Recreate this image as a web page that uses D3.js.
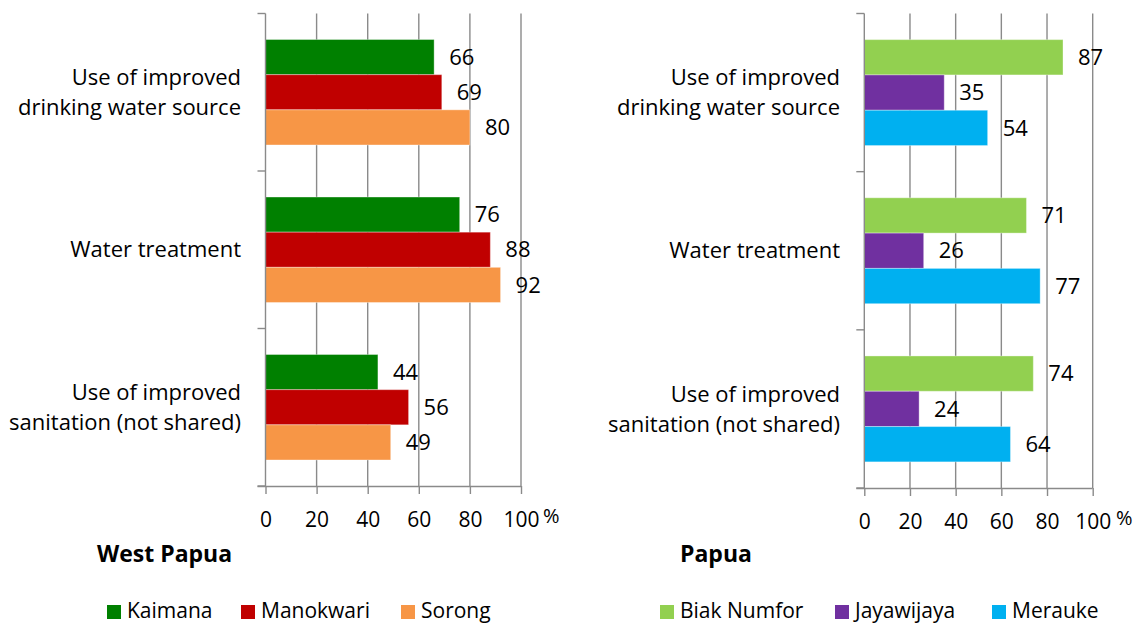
<!DOCTYPE html>
<html>
<head>
<meta charset="utf-8">
<script src="https://cdn.jsdelivr.net/npm/d3@7"></script>
<style>
  body { margin: 0; background: #fff; }
  svg { display: block; font-family: "Open Sans", "Noto Sans", sans-serif; }
</style>
</head>
<body>
<svg id="chart" width="1140" height="624"></svg>
<script>
// indicators, top to bottom
var categories = [
  ["Use of improved", "drinking water source"],
  ["Water treatment"],
  ["Use of improved", "sanitation (not shared)"]
];
var xTicks = [0, 20, 40, 60, 80, 100];

// West Papua
var westSeries = ["Kaimana", "Manokwari", "Sorong"];
var westColors = ["#008000", "#c00000", "#f79646"];
var kaimana = [66, 76, 44];
var manokwari = [69, 88, 56];
var sorong = [80, 92, 49];

// Papua
var papuaSeries = ["Biak Numfor", "Jayawijaya", "Merauke"];
var papuaColors = ["#92d050", "#7030a0", "#00b0f0"];
var biakNumfor = [87, 71, 74];
var jayawijaya = [35, 26, 24];
var merauke = [54, 77, 64];

var svg = d3.select("#chart");
var gridColor = "#8a8a8a";

function drawPanel(opt){
  var g = svg.append("g");
  var x = d3.scaleLinear().domain([0, 100]).range([opt.x0, opt.x1]);
  var catIdx = d3.range(categories.length);
  var y = d3.scaleBand().domain(catIdx).range([opt.y0, opt.y1]);
  var inner = d3.scaleBand().domain(opt.series).range([0, y.bandwidth()]).paddingOuter(0.74);

  // gridlines
  g.selectAll(".grid")
    .data(xTicks.slice(1))
    .enter().append("line")
    .attr("x1", function(d){ return x(d); })
    .attr("x2", function(d){ return x(d); })
    .attr("y1", opt.y0)
    .attr("y2", opt.y1)
    .style("stroke", gridColor)
    .style("stroke-width", 1.4);

  // bars
  var rows = [];
  opt.series.forEach(function(s, si){
    opt.values[si].forEach(function(v, ci){
      rows.push({series: s, si: si, ci: ci, value: v});
    });
  });
  g.selectAll(".bar")
    .data(rows)
    .enter().append("rect")
    .attr("x", x(0))
    .attr("y", function(d){ return y(d.ci) + inner(d.series); })
    .attr("width", function(d){ return x(d.value) - x(0); })
    .attr("height", inner.bandwidth())
    .style("fill", function(d){ return opt.colors[d.si]; })
    .style("stroke", "rgba(255,255,255,0.35)")
    .style("stroke-width", 1);

  g.selectAll(".val")
    .data(rows)
    .enter().append("text")
    .attr("x", function(d){ return x(d.value) + 15; })
    .attr("y", function(d){ return y(d.ci) + inner(d.series) + inner.bandwidth() / 2; })
    .attr("dy", ".35em")
    .style("font-size", "22px")
    .style("fill", "#000")
    .text(function(d){ return d.value; });

  // category axis (ticks at band edges)
  var edges = catIdx.map(function(i){ return y(i); }).concat([opt.y1]);
  g.append("line")
    .attr("x1", x(0)).attr("x2", x(0))
    .attr("y1", opt.y0).attr("y2", opt.y1)
    .style("stroke", gridColor).style("stroke-width", 1.4);
  g.selectAll(".ctick")
    .data(edges)
    .enter().append("line")
    .attr("x1", x(0) - 8).attr("x2", x(0))
    .attr("y1", function(d){ return d; })
    .attr("y2", function(d){ return d; })
    .style("stroke", gridColor).style("stroke-width", 1.4);

  var labels = g.selectAll(".cat")
    .data(catIdx)
    .enter().append("text")
    .attr("text-anchor", "end")
    .style("font-size", "22px")
    .style("fill", "#000");
  labels.each(function(ci){
    var lines = categories[ci];
    var cy = y(ci) + y.bandwidth() / 2;
    d3.select(this).selectAll("tspan")
      .data(lines)
      .enter().append("tspan")
      .attr("x", opt.labelX)
      .attr("y", function(d, i){ return cy + (i - (lines.length - 1) / 2) * 30; })
      .attr("dy", ".35em")
      .text(function(d){ return d; });
  });

  // value axis
  var axis = g.append("g")
    .attr("transform", "translate(0," + opt.y1 + ")")
    .call(d3.axisBottom(x).tickValues(xTicks).tickSizeInner(8).tickSizeOuter(0).tickPadding(18));
  axis.select(".domain").style("stroke", gridColor).style("stroke-width", 1.4)
    .attr("d", "M" + (x(0) - 8) + ",0.5H" + x(100));
  axis.selectAll(".tick line").style("stroke", gridColor).style("stroke-width", 1.4);
  axis.selectAll(".tick text")
    .style("font-size", "21px")
    .style("font-family", "Open Sans, Noto Sans, sans-serif")
    .style("fill", "#000");
  g.append("text")
    .attr("x", opt.pctX)
    .attr("y", opt.y1 + 37)
    .style("font-size", "20px")
    .style("fill", "#000")
    .text("%");

  // title
  g.append("text")
    .attr("x", opt.titleX)
    .attr("y", 562)
    .style("font-size", "23px")
    .style("font-weight", "bold")
    .style("fill", "#000")
    .text(opt.title);

  // legend
  var leg = g.selectAll(".leg")
    .data(opt.series)
    .enter().append("g")
    .attr("transform", function(d, i){ return "translate(" + opt.legendX[i] + ",605)"; });
  leg.append("rect")
    .attr("width", 14).attr("height", 14)
    .style("fill", function(d, i){ return opt.colors[i]; });
  leg.append("text")
    .attr("x", 20)
    .attr("y", 6)
    .attr("dy", ".35em")
    .style("font-size", "21px")
    .style("fill", "#000")
    .text(function(d){ return d; });
}

drawPanel({
  x0: 265.5, x1: 521, y0: 13.5, y1: 486, labelX: 241, pctX: 543,
  series: westSeries, colors: westColors, values: [kaimana, manokwari, sorong],
  title: "West Papua", titleX: 97, legendX: [107, 241, 401]
});
drawPanel({
  x0: 864.3, x1: 1092.7, y0: 13.5, y1: 488, labelX: 840, pctX: 1116,
  series: papuaSeries, colors: papuaColors, values: [biakNumfor, jayawijaya, merauke],
  title: "Papua", titleX: 680, legendX: [660, 835, 992]
});
</script>
</body>
</html>
